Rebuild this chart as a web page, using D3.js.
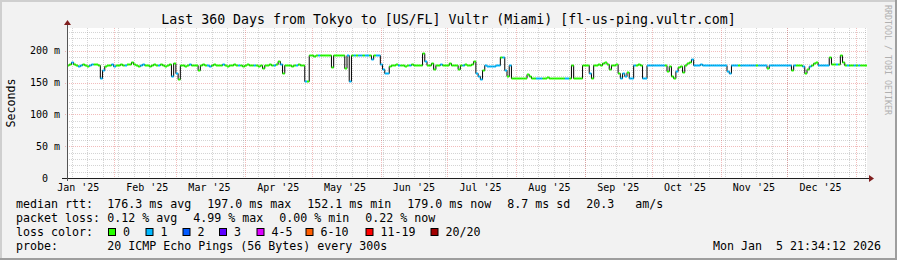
<!DOCTYPE html>
<html><head><meta charset="utf-8">
<script src="https://cdn.jsdelivr.net/npm/d3@7/dist/d3.min.js"></script>
<style>
html,body{margin:0;padding:0;background:#f2f2f2;}
svg{display:block;}
text{font-family:"DejaVu Sans Mono",monospace;white-space:pre;fill:#000;}
</style>
</head><body>
<svg id="chart" width="897" height="260"></svg>
<script>
// ---------------- data ----------------
const titleText = "Last 360 Days from Tokyo to [US/FL] Vultr (Miami) [fl-us-ping.vultr.com]";
const yAxisTitle = "Seconds";
const watermark = "RRDTOOL / TOBI OETIKER";
const startTime = new Date(Date.UTC(2025, 0, 10, 21, 34, 12));
const endTime = new Date(Date.UTC(2026, 0, 5, 21, 34, 12));
const stepDays = 1;

// daily median rtt (ms), day 0 = start of graph
const medianMs = [
178,179,182,180,178,177,178,179,178,177,178,179,180,180,178,
157,170,177,
178,178,179,177,178,178,179,178,178,179,180,183,179,178,177,178,179,178,178,177,178,179,178,178,179,178,177,178,180,
160,181,165,156,178,
178,177,178,179,178,178,178,
170,
178,179,178,178,177,178,179,178,178,178,179,178,177,178,178,179,178,178,178,177,178,179,178,178,178,178,177,178,
173,
178,178,179,178,178,179,
184,180,165,178,
178,178,177,178,178,179,178,178,
152,152,
193,193,192,193,193,193,194,193,193,193,
175,
193,193,193,193,193,
174,193,153,
193,193,193,193,193,193,193,193,193,
188,193,193,193,
180,172,165,165,177,
178,178,179,178,178,178,177,178,178,179,178,178,178,178,
197,184,178,178,181,172,
178,178,179,178,178,178,
181,178,178,178,171,
178,178,179,178,178,179,
185,165,160,156,170,178,177,177,177,177,178,178,
191,190,170,160,178,157,
157,157,157,157,158,157,
164,160,
157,157,157,157,157,157,157,
159,
157,157,157,157,157,157,157,157,157,157,
178,157,157,157,157,
178,178,178,
165,157,178,
178,179,178,
181,182,180,172,
178,178,179,
165,157,166,160,167,157,157,
178,178,179,178,
157,157,
178,178,178,178,178,178,178,178,178,
168,176,160,157,168,175,176,167,178,181,183,187,
178,178,178,179,178,178,178,178,178,178,178,178,178,178,178,
168,165,
178,178,178,178,178,178,178,178,178,178,178,178,178,178,178,178,
173,
178,178,178,178,178,178,178,178,178,178,
170,
178,178,178,178,
176,166,172,176,
178,181,183,178,
178,178,178,178,
190,180,179,179,179,
193,183,
178,178,178,178,178,178,178,178,178,178
];

// daily loss count (pings lost out of 20) used for line colour
const lossCount = [
0,0,1,0,0,1,1,0,0,0,1,1,0,0,0,
1,1,0,
0,0,1,1,0,0,0,0,1,0,0,0,0,0,0,1,1,0,0,0,0,0,0,1,0,0,0,0,0,
1,0,1,0,0,
0,0,0,1,0,0,0,
0,
0,0,0,1,1,0,0,0,0,0,1,0,0,0,0,0,0,1,0,0,0,0,0,0,1,0,0,0,
0,
0,0,0,0,1,0,
0,1,0,0,
0,0,0,0,1,0,0,0,
1,0,
0,0,0,0,1,0,0,0,0,0,
0,
0,0,0,0,0,
0,1,1,
0,1,0,1,1,0,1,1,0,
1,0,1,1,
1,1,1,1,0,
0,0,0,1,0,0,0,0,1,0,0,0,0,0,
0,1,0,0,0,0,
0,0,1,0,0,0,
0,0,0,0,0,
0,1,0,0,0,0,
0,1,1,1,0,1,1,1,1,1,1,1,
0,1,1,0,1,0,
0,0,0,0,0,0,
0,0,
0,0,1,1,1,0,0,
0,
0,0,0,0,0,0,0,1,1,0,
0,0,0,0,0,
0,0,0,
1,0,0,
0,0,0,
0,0,0,0,
0,0,0,
0,1,1,1,0,1,1,
1,0,0,0,
1,1,
1,1,1,1,1,1,1,1,0,
0,0,0,0,1,0,0,0,0,0,0,1,
1,1,1,1,1,1,1,1,1,1,1,1,1,1,1,
1,1,
1,1,1,0,1,1,1,1,1,1,1,0,1,1,1,1,
0,
1,1,1,1,1,1,1,1,1,1,
0,
1,0,0,0,
1,0,0,1,
0,0,0,1,
1,1,1,1,
0,0,0,1,0,
0,0,
0,1,0,0,1,0,1,0,0,0
];

const yTicks = [0, 50, 100, 150, 200];
const yTickLabels = ["0  ", "50 m", "100 m", "150 m", "200 m"];
const yMax = 236.2;
const monthLabelFormat = "%b '%y";

const lossLegendLabels = ["0", "1", "2", "3", "4-5", "6-10", "11-19", "20/20"];
const lossLegendColors = ["#26ff00", "#00b8ff", "#0059ff", "#5e00ff", "#dd00ff", "#ff5e00", "#ff0000", "#a10000"];
const lossBounds = [0, 1, 2, 3, 5, 10, 19, 20]; // upper loss value per colour class

const rttLabel = "median rtt:";
const rttStats = ["176.3 ms avg", "197.0 ms max", "152.1 ms min", "179.0 ms now", "8.7 ms sd", "20.3   am/s"];
const lossLabel = "packet loss:";
const lossStats = ["0.12 % avg", "4.99 % max", "0.00 % min", "0.22 % now"];
const lossColorLabel = "loss color:";
const probeLabel = "probe:";
const probeText = "20 ICMP Echo Pings (56 Bytes) every 300s";
const dateText = "Mon Jan  5 21:34:12 2026";

// ---------------- layout ----------------
const W = 897, H = 260;
const plot = {left: 67, right: 867, top: 28, bottom: 178};
const legendFont = "11.63px";
const axisFont = "10px";
const legendX = 16, valueX = 107.3, pieceGap = 16;
const rowY = [208, 222, 236, 250];
const boxXs = [108.5, 146, 183, 219.5, 257, 306, 366, 431];

const svg = d3.select("#chart");

// frame / background
svg.append("rect").attr("x", 0).attr("y", 0).attr("width", W).attr("height", H).attr("fill", "#f2f2f2");
svg.append("path").attr("d", `M0,0H${W}V2H2V${H}H0Z`).attr("fill", "#cfcfcf");
svg.append("path").attr("d", `M${W},${H}H0V${H-2}H${W-2}V0H${W}Z`).attr("fill", "#9e9e9e");

// canvas
svg.append("rect").attr("x", plot.left).attr("y", plot.top)
  .attr("width", plot.right - plot.left).attr("height", plot.bottom - plot.top).attr("fill", "#fff");

const x = d3.scaleUtc().domain([startTime, endTime]).range([plot.left, plot.right]);
const y = d3.scaleLinear().domain([0, yMax]).range([plot.bottom, plot.top]);

const minorCol = "rgba(143,143,143,0.38)";
const majorCol = "rgba(222,79,79,0.38)";
const grid = svg.append("g");
// horizontal minor grid (10 ms)
const minorY = d3.range(10, yMax, 10).filter(v => v % 50 !== 0);
grid.selectAll("line.hmin").data(minorY).join("line")
  .attr("x1", plot.left).attr("x2", plot.right)
  .attr("y1", d => Math.round(y(d)) + 0.5).attr("y2", d => Math.round(y(d)) + 0.5)
  .attr("stroke", minorCol).attr("stroke-dasharray", "1,1");
// vertical minor grid (weekly)
const weeks = d3.utcMonday.range(startTime, endTime);
grid.selectAll("line.vmin").data(weeks).join("line")
  .attr("x1", d => Math.round(x(d)) + 0.5).attr("x2", d => Math.round(x(d)) + 0.5)
  .attr("y1", plot.top).attr("y2", plot.bottom)
  .attr("stroke", minorCol).attr("stroke-dasharray", "1,1");
// major grid
const majorY = yTicks.filter(v => v > 0);
grid.selectAll("line.hmaj").data(majorY).join("line")
  .attr("x1", plot.left - 2).attr("x2", plot.right + 2)
  .attr("y1", d => Math.round(y(d)) + 0.5).attr("y2", d => Math.round(y(d)) + 0.5)
  .attr("stroke", majorCol).attr("stroke-dasharray", "1,1");
const months = d3.utcMonth.range(startTime, endTime);
grid.selectAll("line.vmaj").data(months).join("line")
  .attr("x1", d => Math.round(x(d)) + 0.5).attr("x2", d => Math.round(x(d)) + 0.5)
  .attr("y1", plot.top).attr("y2", plot.bottom + 2)
  .attr("stroke", majorCol).attr("stroke-dasharray", "1,1");

// data
const dayMs = 86400000 * stepDays;
const pts = medianMs.map((v, i) => ({t0: new Date(+startTime + i * dayMs), t1: new Date(+startTime + (i + 1) * dayMs), v, loss: lossCount[i]}));
const stepPts = pts.map(p => [p.t0, p.v]).concat([[pts[pts.length - 1].t1, pts[pts.length - 1].v]]);
const lineGen = d3.line().x(d => x(d[0])).y(d => Math.round(y(d[1])) + 0.5).curve(d3.curveStepAfter);
svg.append("path").attr("d", lineGen(stepPts)).attr("fill", "none").attr("stroke", "#000").attr("stroke-width", 1);

function lossColor(l) {
  for (let i = 0; i < lossBounds.length; i++) if (l <= lossBounds[i]) return lossLegendColors[i];
  return lossLegendColors[lossLegendColors.length - 1];
}
svg.append("g").selectAll("line").data(pts).join("line")
  .attr("x1", d => x(d.t0)).attr("x2", d => x(d.t1))
  .attr("y1", d => Math.round(y(d.v)) + 0.5).attr("y2", d => Math.round(y(d.v)) + 0.5)
  .attr("stroke", d => lossColor(d.loss)).attr("stroke-width", 2);

// axes
const axisG = svg.append("g");
axisG.append("line").attr("x1", plot.left - 5).attr("x2", plot.right + 3)
  .attr("y1", plot.bottom + 0.5).attr("y2", plot.bottom + 0.5).attr("stroke", "#1f1f1f");
axisG.append("line").attr("x1", plot.left + 0.5).attr("x2", plot.left + 0.5)
  .attr("y1", plot.bottom + 3).attr("y2", plot.top - 4).attr("stroke", "#555");
axisG.append("path").attr("d", `M${plot.right + 2},${plot.bottom - 3}L${plot.right + 7},${plot.bottom + 0.5}L${plot.right + 2},${plot.bottom + 4}Z`).attr("fill", "#801f1f");
axisG.append("path").attr("d", `M${plot.left - 3},${plot.top - 3}L${plot.left + 0.5},${plot.top - 8}L${plot.left + 4},${plot.top - 3}Z`).attr("fill", "#801f1f");

// y tick labels
svg.append("g").selectAll("text").data(yTicks).join("text")
  .attr("x", plot.left - 7).attr("y", d => y(d) + 3.5)
  .attr("text-anchor", "end").style("font-size", axisFont)
  .text((d, i) => yTickLabels[i]);

// x labels centred mid-month
const fmt = d3.utcFormat(monthLabelFormat);
const labelMonths = d3.utcMonth.range(d3.utcMonth.floor(startTime), endTime)
  .map(m => ({m, c: new Date(+m + 15 * 86400000)}))
  .filter(o => o.c >= startTime && o.c <= endTime);
svg.append("g").selectAll("text").data(labelMonths).join("text")
  .attr("x", d => x(d.c)).attr("y", 190.5).attr("text-anchor", "middle")
  .style("font-size", axisFont).text(d => fmt(d.m));

// title
svg.append("text").attr("x", W / 2).attr("y", 23.5).attr("text-anchor", "middle")
  .style("font-size", "13.25px").text(titleText);

// y axis title
svg.append("text").attr("transform", "translate(15,103) rotate(-90)").attr("text-anchor", "middle")
  .style("font-size", legendFont).text(yAxisTitle);

// watermark
svg.append("text").attr("transform", `translate(${W - 6},5) rotate(90)`)
  .attr("dominant-baseline", "hanging").style("font-size", "8.3px").style("fill", "#b0b0b0")
  .text(watermark);

// legend
const leg = svg.append("g").style("font-size", legendFont);
function row(label, pieces, yy) {
  leg.append("text").attr("x", legendX).attr("y", yy).text(label);
  let xx = valueX;
  pieces.forEach(p => {
    const t = leg.append("text").attr("x", xx).attr("y", yy).text(p);
    xx += t.node().getComputedTextLength() + pieceGap;
  });
}
row(rttLabel, rttStats, rowY[0]);
row(lossLabel, lossStats, rowY[1]);
leg.append("text").attr("x", legendX).attr("y", rowY[2]).text(lossColorLabel);
lossLegendLabels.forEach((l, i) => {
  leg.append("rect").attr("x", boxXs[i]).attr("y", rowY[2] - 7.5).attr("width", 7).attr("height", 7)
    .attr("fill", lossLegendColors[i]).attr("stroke", "#000").attr("stroke-width", 1);
  leg.append("text").attr("x", boxXs[i] + 14.5).attr("y", rowY[2]).text(l);
});
leg.append("text").attr("x", legendX).attr("y", rowY[3]).text(probeLabel);
leg.append("text").attr("x", valueX).attr("y", rowY[3]).text(probeText);
leg.append("text").attr("x", 881).attr("y", rowY[3]).attr("text-anchor", "end").text(dateText);
</script>
</body></html>
